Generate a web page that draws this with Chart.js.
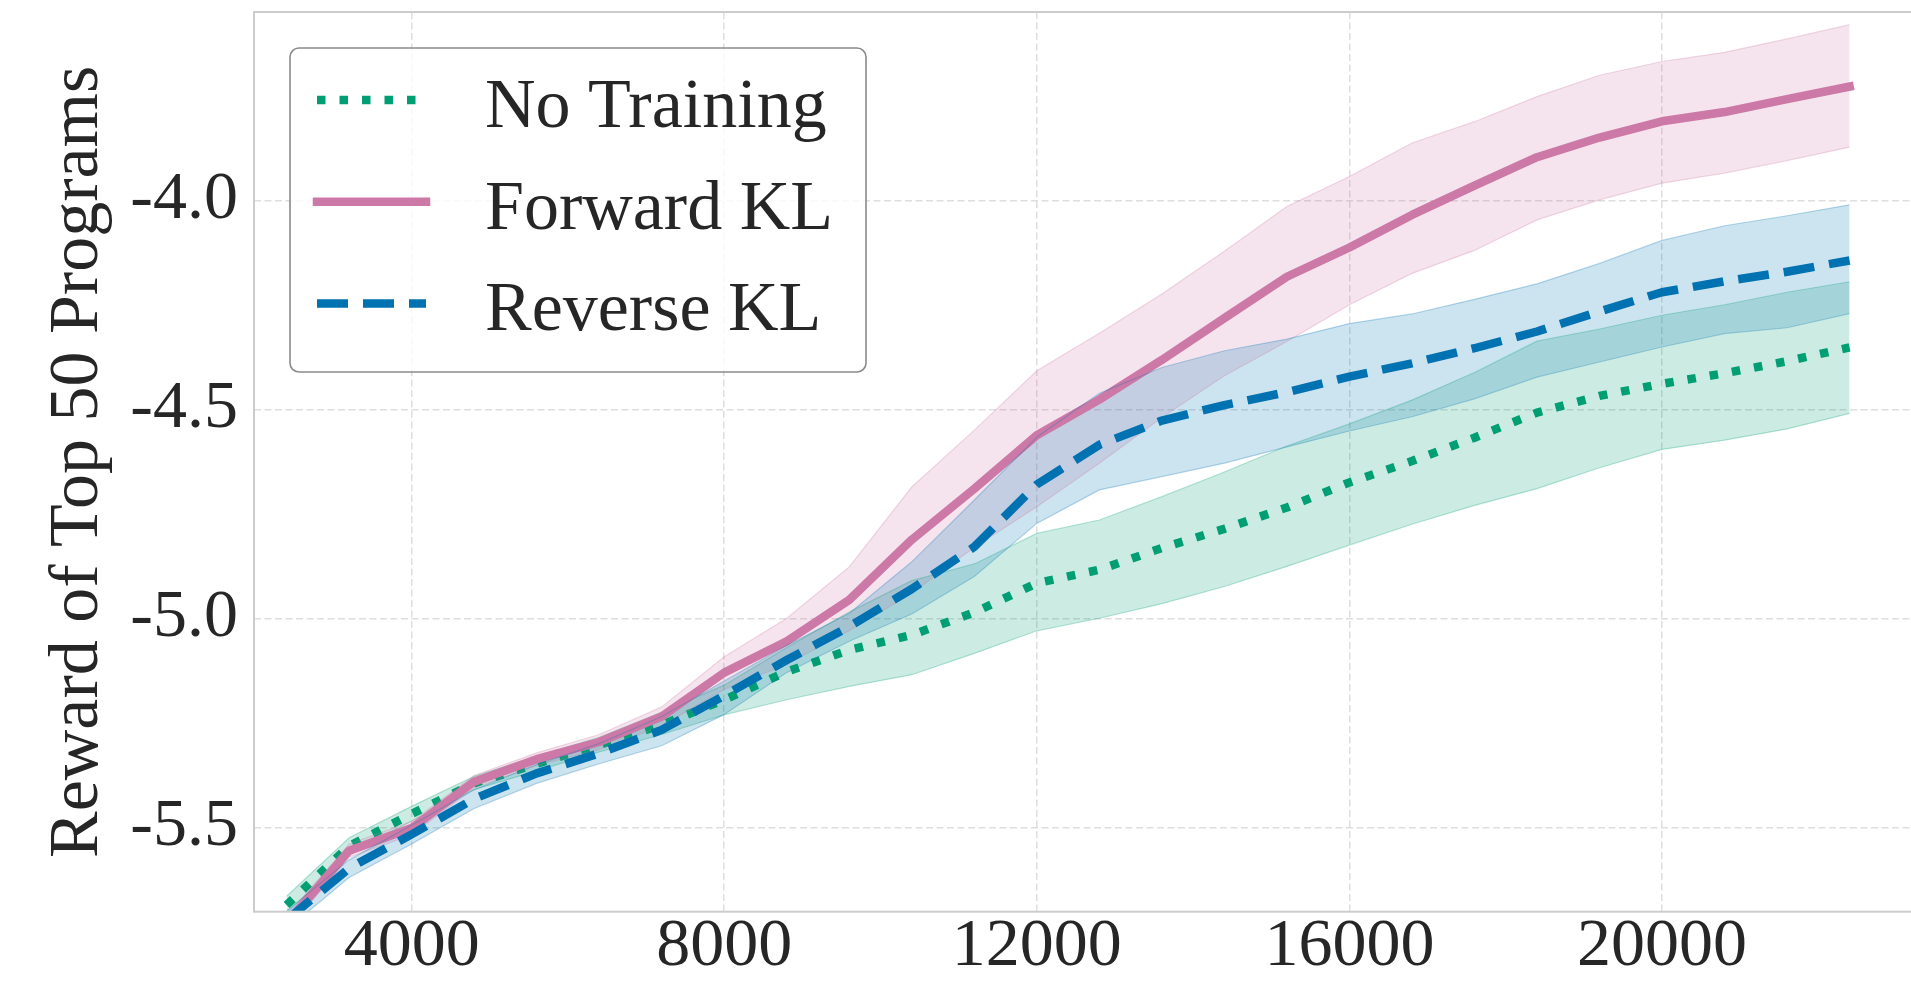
<!DOCTYPE html>
<html>
<head>
<meta charset="utf-8">
<title>Reward of Top 50 Programs</title>
<script src="https://cdn.jsdelivr.net/npm/chart.js@4.4.0/dist/chart.umd.min.js"></script>
<style>
    html, body { margin: 0; padding: 0; background: #fff; }
    #wrap { width: 1911px; height: 981px; }
</style>
</head>
<body>
<div id="wrap"><canvas id="reward-chart" width="1911" height="981"></canvas></div>
<script>
// training steps on the x axis
const steps = [2400, 3200, 4000, 4800, 5600, 6400, 7200, 8000, 8800, 9600, 10400, 11200, 12000,
               12800, 13600, 14400, 15200, 16000, 16800, 17600, 18400, 19200, 20000, 20800, 21600, 22400];

// No Training
const noTrainingMean  = [-5.686, -5.545, -5.468, -5.395, -5.348, -5.303, -5.255, -5.195, -5.128, -5.076, -5.040, -4.986, -4.916,
                         -4.884, -4.832, -4.786, -4.735, -4.675, -4.624, -4.568, -4.508, -4.468, -4.439, -4.414, -4.385, -4.352];
const noTrainingUpper = [-5.665, -5.525, -5.450, -5.378, -5.330, -5.285, -5.225, -5.160, -5.070, -4.985, -4.910, -4.870, -4.797,
                         -4.765, -4.709, -4.650, -4.588, -4.535, -4.478, -4.412, -4.337, -4.308, -4.275, -4.250, -4.220, -4.195];
const noTrainingLower = [-5.705, -5.565, -5.485, -5.410, -5.365, -5.320, -5.278, -5.231, -5.195, -5.163, -5.135, -5.084, -5.030,
                         -5.000, -4.965, -4.924, -4.876, -4.825, -4.775, -4.730, -4.690, -4.640, -4.596, -4.574, -4.547, -4.510];

// Forward KL
const forwardMean  = [-5.730, -5.556, -5.502, -5.391, -5.337, -5.296, -5.235, -5.130, -5.055, -4.956, -4.812, -4.690, -4.562,
                      -4.477, -4.382, -4.282, -4.183, -4.113, -4.035, -3.965, -3.897, -3.850, -3.811, -3.789, -3.758, -3.728];
const forwardUpper = [-5.712, -5.540, -5.486, -5.376, -5.322, -5.278, -5.212, -5.092, -5.000, -4.877, -4.686, -4.550, -4.408,
                      -4.318, -4.224, -4.122, -4.015, -3.943, -3.863, -3.812, -3.752, -3.701, -3.668, -3.646, -3.614, -3.580];
const forwardLower = [-5.748, -5.572, -5.518, -5.406, -5.352, -5.314, -5.258, -5.170, -5.110, -5.030, -4.940, -4.830, -4.733,
                      -4.629, -4.520, -4.420, -4.338, -4.250, -4.175, -4.120, -4.047, -3.999, -3.959, -3.935, -3.905, -3.873];

// Reverse KL
const reverseMean  = [-5.722, -5.598, -5.517, -5.432, -5.371, -5.323, -5.267, -5.185, -5.100, -5.020, -4.930, -4.829, -4.680,
                      -4.585, -4.527, -4.490, -4.459, -4.422, -4.390, -4.354, -4.314, -4.266, -4.220, -4.194, -4.171, -4.144];
const reverseUpper = [-5.700, -5.578, -5.495, -5.410, -5.350, -5.300, -5.235, -5.150, -5.065, -4.988, -4.865, -4.717, -4.567,
                      -4.462, -4.400, -4.360, -4.332, -4.295, -4.272, -4.237, -4.200, -4.151, -4.096, -4.061, -4.037, -4.011];
const reverseLower = [-5.745, -5.620, -5.540, -5.455, -5.395, -5.348, -5.305, -5.230, -5.130, -5.055, -4.990, -4.900, -4.773,
                      -4.693, -4.661, -4.629, -4.590, -4.552, -4.518, -4.475, -4.423, -4.387, -4.351, -4.319, -4.305, -4.271];

const legendNames = ['No Training', 'Forward KL', 'Reverse KL'];
const xTicks = [4000, 8000, 12000, 16000, 20000];
const yTicks = [-5.5, -5.0, -4.5, -4.0];
const yTitle = 'Reward of Top 50 Programs';

const FONT = '"Liberation Serif", "Times New Roman", serif';
const TEXT = '#262626';

function points(values) {
    return steps.map((s, i) => ({ x: s, y: values[i] }));
}

function meanLine(label, values, color, dash, cap) {
    return {
        label: label,
        data: points(values),
        borderColor: color,
        borderWidth: 8.5,
        borderDash: dash,
        borderCapStyle: cap,
        borderJoinStyle: 'round',
        pointRadius: 0,
        tension: 0,
        fill: false
    };
}

function band(values, rgb, fill) {
    return {
        label: '',
        data: points(values),
        borderColor: `rgba(${rgb}, 0.28)`,
        borderWidth: 1.2,
        backgroundColor: `rgba(${rgb}, 0.2)`,
        pointRadius: 0,
        tension: 0,
        fill: fill
    };
}

// index 0 is drawn last, so Reverse KL goes first
const datasets = [
    meanLine('Reverse KL', reverseMean, '#0072b2', [31, 15], 'butt'),
    band(reverseUpper, '0, 114, 178', '+1'),
    band(reverseLower, '0, 114, 178', false),
    meanLine('Forward KL', forwardMean, '#cc79a7', [], 'square'),
    band(forwardUpper, '204, 121, 167', '+1'),
    band(forwardLower, '204, 121, 167', false),
    meanLine('No Training', noTrainingMean, '#009e73', [8.5, 14], 'butt'),
    band(noTrainingUpper, '0, 158, 115', '+1'),
    band(noTrainingLower, '0, 158, 115', false)
];

// light frame round the plot, like the seaborn spines
const plotFrame = {
    id: 'plotFrame',
    afterDatasetsDraw(chart) {
        const { ctx, chartArea } = chart;
        ctx.save();
        ctx.strokeStyle = '#cccccc';
        ctx.lineWidth = 2;
        ctx.strokeRect(chartArea.left, chartArea.top, chartArea.right - chartArea.left + 4, chartArea.bottom - chartArea.top);
        ctx.restore();
    }
};

// legend box inside the plot, upper left
const insideLegend = {
    id: 'insideLegend',
    afterDraw(chart) {
        const { ctx, chartArea } = chart;
        const left = chartArea.left + 36;
        const top = chartArea.top + 36;
        ctx.save();
        ctx.beginPath();
        ctx.roundRect(left, top, 576, 324, 9);
        ctx.fillStyle = 'rgba(255, 255, 255, 0.8)';
        ctx.fill();
        ctx.lineWidth = 1.6;
        ctx.strokeStyle = '#8a8a8a';
        ctx.stroke();

        legendNames.forEach((name, i) => {
            const ds = chart.data.datasets.find(d => d.label === name);
            const cy = top + 52 + i * 101.7;
            ctx.beginPath();
            ctx.setLineDash(ds.borderDash);
            ctx.lineWidth = ds.borderWidth;
            ctx.strokeStyle = ds.borderColor;
            ctx.lineCap = ds.borderCapStyle;
            ctx.moveTo(left + 27, cy);
            ctx.lineTo(left + 136, cy);
            ctx.stroke();
            ctx.setLineDash([]);
            ctx.fillStyle = TEXT;
            ctx.font = '70px ' + FONT;
            ctx.textBaseline = 'alphabetic';
            ctx.fillText(name, left + 195, cy + 27);
        });
        ctx.restore();
    }
};

const ctx = document.getElementById('reward-chart').getContext('2d');

window.rewardChart = new Chart(ctx, {
    type: 'line',
    data: { datasets: datasets },
    plugins: [plotFrame, insideLegend],
    options: {
        responsive: false,
        devicePixelRatio: 1,
        animation: false,
        layout: { padding: { top: 12, right: 0, bottom: 0, left: 0 } },
        scales: {
            x: {
                type: 'linear',
                min: 1983,
                max: 23186,
                afterBuildTicks: scale => { scale.ticks = xTicks.map(v => ({ value: v })); },
                afterFit: scale => {
                    scale.height = 69.3;
                    scale.paddingLeft = 0;
                    scale.paddingRight = 0;
                },
                grid: { color: '#dedede', lineWidth: 1.5, drawTicks: false },
                border: { display: false, dash: [7, 3.5] },
                ticks: {
                    font: { family: FONT, size: 68, lineHeight: 1 },
                    color: TEXT,
                    padding: 1,
                    maxRotation: 0,
                    autoSkip: false,
                    callback: value => String(value)
                }
            },
            y: {
                min: -5.702,
                max: -3.5496,
                afterBuildTicks: scale => { scale.ticks = yTicks.map(v => ({ value: v })); },
                afterFit: scale => {
                    scale.width = 254;
                    scale.paddingTop = 0;
                    scale.paddingBottom = 0;
                },
                grid: { color: '#dedede', lineWidth: 1.5, drawTicks: false },
                border: { display: false, dash: [7, 3.5] },
                ticks: {
                    font: { family: FONT, size: 68, lineHeight: 1 },
                    color: TEXT,
                    padding: 16,
                    callback: value => value.toFixed(1)
                },
                title: {
                    display: true,
                    text: yTitle,
                    color: TEXT,
                    font: { family: FONT, size: 70, lineHeight: 1 },
                    padding: { top: 44, bottom: 0 }
                }
            }
        },
        plugins: {
            legend: { display: false },
            tooltip: { enabled: false },
            filler: { drawTime: 'beforeDatasetsDraw' }
        }
    }
});
</script>
</body>
</html>
